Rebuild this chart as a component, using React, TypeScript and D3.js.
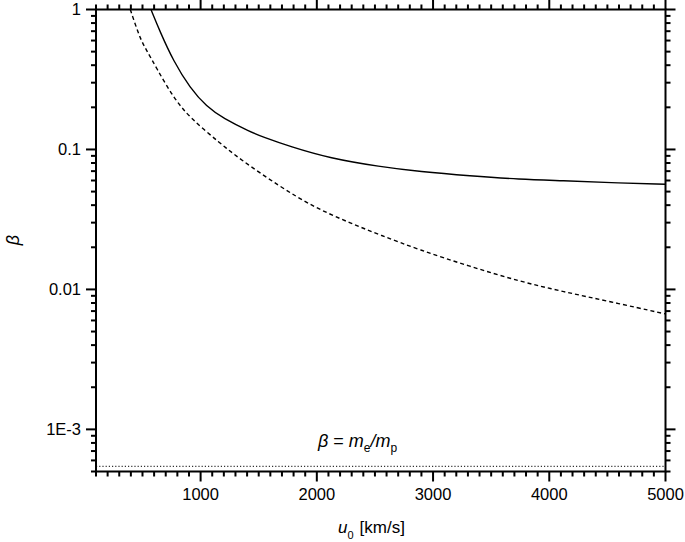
import React from 'react';
import * as d3 from 'd3';

const solidU = [573, 651, 765, 909, 1052, 1195, 1425, 1534, 1769, 2113, 2543, 2887, 3317, 3747, 4117, 4522, 5000];
const solidBeta = [1, 0.694, 0.43, 0.275, 0.202, 0.167, 0.134, 0.123, 0.105, 0.0865, 0.0753, 0.0694, 0.0647, 0.0612, 0.0598, 0.0579, 0.0564];

const dashedU = [395, 478, 530, 622, 765, 909, 1167, 1328, 1683, 1969, 2257, 2543, 2887, 3317, 3747, 4120, 4522, 5000];
const dashedBeta = [1, 0.623, 0.52, 0.38, 0.235, 0.168, 0.111, 0.0865, 0.0542, 0.039, 0.0305, 0.0245, 0.0191, 0.0146, 0.0114, 0.00964, 0.00818, 0.00668];

const massRatio = 1 / 1836;

const xMajor = [1000, 2000, 3000, 4000, 5000];
const yMajor = [1, 0.1, 0.01, 0.001];
const yLabels = ['1', '0.1', '0.01', '1E-3'];

const W = 685;
const H = 542;
const margin = {top: 9.5, right: 19.5, bottom: 70.5, left: 96};
const font = 'Arial, "Liberation Sans", sans-serif';

export default function App() {
  const innerW = W - margin.left - margin.right;
  const innerH = H - margin.top - margin.bottom;

  const x = d3.scaleLinear().domain([100, 5000]).range([margin.left, margin.left + innerW]);
  const y = d3.scaleLog().domain([5e-4, 1]).range([margin.top + innerH, margin.top]);

  // smooth through the hand-read points
  const line = d3.line<[number, number]>()
    .x((d) => x(d[0]))
    .y((d) => y(d[1]))
    .curve(d3.curveBasis);

  const solid = solidU.map((u, i) => [u, solidBeta[i]] as [number, number]);
  const dashed = dashedU.map((u, i) => [u, dashedBeta[i]] as [number, number]);

  const xMinor = d3.range(100, 5001, 100).filter((v) => !xMajor.includes(v));
  const yMinor: number[] = [];
  for (let e = -4; e <= 0; e++) {
    for (let k = 2; k <= 9; k++) {
      const v = k * Math.pow(10, e);
      if (v >= 5e-4 && v < 1) yMinor.push(v);
    }
  }

  const x0 = margin.left;
  const x1 = margin.left + innerW;
  const y0 = margin.top + innerH;
  const y1 = margin.top;

  return (
    <svg width={W} height={H} style={{position: 'absolute', left: 0, top: 0, background: '#fff'}}>
      <defs>
        <clipPath id="plot">
          <rect x={x0} y={y1} width={innerW} height={innerH} />
        </clipPath>
      </defs>

      <g clipPath="url(#plot)" fill="none" stroke="#000">
        <line x1={x0} x2={x1} y1={y(massRatio)} y2={y(massRatio)} strokeWidth={1} strokeDasharray="1.2,2" />
        <path d={line(solid) || ''} strokeWidth={1.4} />
        <path d={line(dashed) || ''} strokeWidth={1.4} strokeDasharray="4,3" />
      </g>

      <g stroke="#000" strokeWidth={2}>
        {xMinor.map((v) => (
          <g key={'xm' + v}>
            <line x1={x(v)} x2={x(v)} y1={y0} y2={y0 + 5} />
            <line x1={x(v)} x2={x(v)} y1={y1} y2={y1 - 5} />
          </g>
        ))}
        {xMajor.map((v) => (
          <g key={'xM' + v}>
            <line x1={x(v)} x2={x(v)} y1={y0} y2={y0 + 10} />
            <line x1={x(v)} x2={x(v)} y1={y1} y2={y1 - 10} />
          </g>
        ))}
        {yMinor.map((v) => (
          <g key={'ym' + v}>
            <line x1={x0} x2={x0 - 5} y1={y(v)} y2={y(v)} />
            <line x1={x1} x2={x1 + 5} y1={y(v)} y2={y(v)} />
          </g>
        ))}
        {yMajor.map((v) => (
          <g key={'yM' + v}>
            <line x1={x0} x2={x0 - 10} y1={y(v)} y2={y(v)} />
            <line x1={x1} x2={x1 + 10} y1={y(v)} y2={y(v)} />
          </g>
        ))}
        <rect x={x0} y={y1} width={innerW} height={innerH} fill="none" />
      </g>

      <g fontFamily={font} fontSize={16.5} fill="#000">
        {xMajor.map((v) => (
          <text key={'xl' + v} x={x(v)} y={y0 + 28} textAnchor="middle">{v}</text>
        ))}
        {yMajor.map((v, i) => (
          <text key={'yl' + v} x={x0 - 15} y={y(v)} dy="0.36em" textAnchor="end">{yLabels[i]}</text>
        ))}

        <text x={338} y={533} fontSize={17}>
          <tspan fontStyle="italic">u</tspan>
          <tspan fontSize={11} dy={6}>0</tspan>
          <tspan dy={-6} dx={6}>[km/s]</tspan>
        </text>

        <text transform="translate(19,240) rotate(-90)" textAnchor="middle" fontStyle="italic" fontSize={18}>β</text>

        <text x={318} y={447} fontSize={18}>
          <tspan fontStyle="italic">β</tspan>
          <tspan> = </tspan>
          <tspan fontStyle="italic">m</tspan>
          <tspan fontSize={12} dy={5}>e</tspan>
          <tspan dy={-5} fontStyle="italic">/</tspan>
          <tspan fontStyle="italic">m</tspan>
          <tspan fontSize={12} dy={5}>p</tspan>
        </text>
      </g>
    </svg>
  );
}
